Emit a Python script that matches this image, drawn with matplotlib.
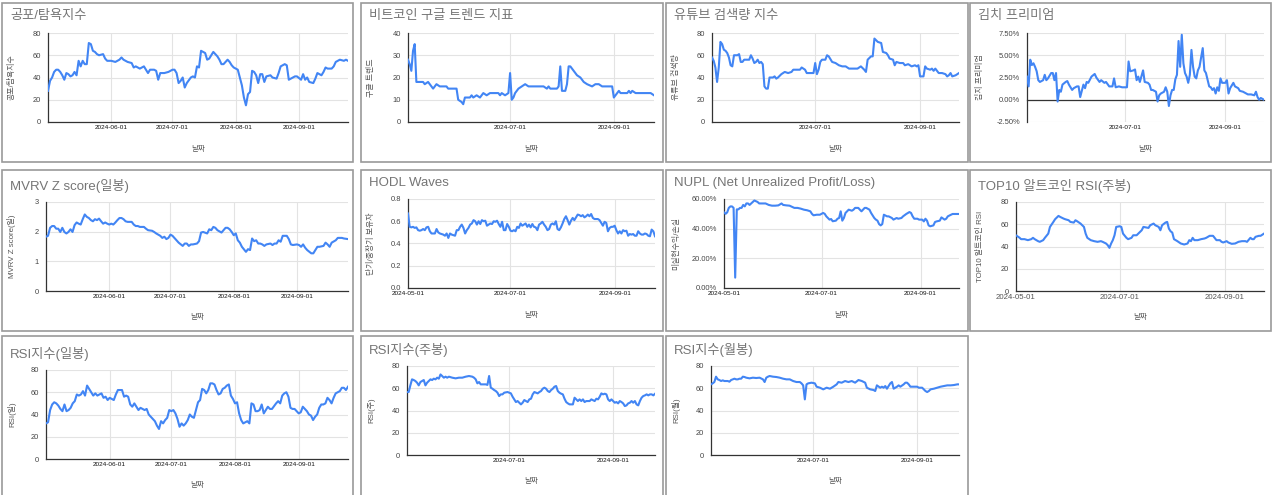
import matplotlib
matplotlib.use('Agg')
import matplotlib.pyplot as plt
from matplotlib.patches import Rectangle
import pandas as pd

plt.rcParams['font.family'] = ['Liberation Sans', 'Noto Sans CJK KR']

START = pd.Timestamp('2024-05-01')

# (days since 2024-05-01, value)
fear_greed = [(0,28),(1,37),(2,40),(3,45),(4,47),(5,47),(6,45),(7,42),(8,38),(9,44),(10,43),(11,41),(12,42),(13,45),(14,42),(15,55),(16,50),(17,55),(18,52),(19,52),(20,71),(21,70),(22,64),(23,63),(24,61),(25,60),(27,61),(28,57),(29,55),(31,55),(33,54),(35,56),(36,58),(37,56),(39,54),(41,53),(42,49),(43,50),(45,48),(46,49),(47,50),(49,44),(50,47),(52,47),(53,46),(54,38),(55,44),(57,44),(59,45),(61,47),(62,47),(63,44),(64,35),(65,37),(66,40),(67,31),(68,35),(70,40),(71,41),(72,40),(73,50),(74,49),(75,64),(77,62),(78,56),(79,57),(80,60),(81,63),(83,59),(84,56),(85,52),(86,52),(88,56),(89,54),(90,51),(91,49),(93,47),(94,40),(95,33),(96,22),(97,15),(98,25),(99,27),(100,46),(101,45),(102,42),(103,35),(104,43),(105,43),(106,36),(107,41),(109,42),(110,40),(112,39),(113,44),(114,50),(116,52),(117,51),(118,38),(120,40),(121,41),(122,41),(124,38),(125,43),(126,38),(127,40),(128,36),(130,35),(131,39),(132,44),(134,42),(135,45),(136,49),(137,48),(139,48),(140,50),(141,54),(143,56),(145,55),(146,56),(147,55)]

google_trend = [(0,28),(1,26),(2,23),(3,32),(4,35),(5,18),(9,18),(10,17),(12,18),(14,16),(15,15),(17,17),(19,16),(23,16),(24,15),(29,15),(30,10),(32,9),(33,8),(34,11),(37,11),(38,12),(39,11),(41,12),(43,11),(45,13),(47,12),(49,13),(54,13),(55,12),(56,13),(58,12),(60,13),(61,22),(62,10),(63,11),(64,13),(66,15),(68,16),(70,17),(72,16),(81,16),(83,15),(84,16),(85,15),(89,15),(90,16),(91,25),(92,14),(94,14),(95,17),(96,25),(97,25),(99,23),(101,21),(103,20),(105,18),(107,17),(110,16),(112,17),(114,17),(116,16),(122,16),(123,11),(124,12),(126,14),(127,13),(131,13),(132,14),(133,13),(134,14),(136,13),(145,13),(147,12)]

youtube = [(0,58),(1,55),(2,49),(3,36),(4,49),(5,72),(6,70),(7,65),(8,64),(9,62),(10,58),(11,51),(12,50),(13,60),(15,60),(16,61),(17,54),(18,54),(19,56),(20,56),(22,56),(23,60),(24,57),(25,53),(26,54),(27,56),(28,53),(29,54),(30,52),(31,32),(32,30),(33,30),(34,40),(36,40),(37,41),(38,39),(39,40),(41,43),(43,45),(45,44),(47,45),(48,47),(50,47),(52,47),(53,49),(55,47),(56,44),(59,44),(60,44),(61,53),(62,43),(63,47),(64,54),(65,56),(67,56),(68,60),(69,59),(71,54),(73,53),(75,51),(77,50),(79,50),(81,48),(84,48),(86,48),(88,50),(90,47),(91,45),(92,56),(94,59),(95,59),(96,75),(98,72),(100,71),(101,63),(103,62),(104,60),(105,57),(107,56),(108,51),(109,54),(111,53),(113,53),(114,51),(116,52),(118,50),(120,51),(121,50),(122,51),(123,41),(125,41),(126,50),(127,48),(129,47),(130,48),(131,46),(132,48),(133,46),(134,44),(136,44),(138,43),(139,41),(140,42),(141,44),(142,41),(144,42),(146,44)]

kimchi = [(0,2.6),(1,1.5),(2,4.5),(3,3.9),(4,4.1),(5,3.7),(6,3.2),(7,2.2),(8,2.0),(10,2.2),(11,2.8),(12,2.2),(13,2.4),(15,3.0),(16,3.0),(17,2.2),(18,3.0),(19,-0.2),(20,1.1),(21,0.9),(22,1.7),(24,2.0),(25,2.1),(26,1.7),(28,1.1),(29,1.3),(31,1.5),(32,1.5),(33,0.3),(35,1.7),(36,1.3),(37,2.0),(38,1.9),(40,2.6),(42,2.9),(43,2.5),(45,2.0),(46,2.2),(48,1.9),(49,2.0),(51,1.5),(53,1.5),(54,2.4),(55,1.4),(57,1.5),(59,1.4),(61,1.4),(62,1.4),(63,4.3),(64,3.2),(66,3.3),(67,3.4),(68,2.2),(69,2.6),(70,2.0),(72,3.3),(73,2.0),(75,1.9),(76,1.7),(77,1.1),(78,1.1),(80,0.9),(81,-0.2),(82,0.5),(83,0.7),(85,0.9),(86,1.4),(87,0.9),(88,-0.7),(89,0.5),(90,1.1),(91,1.1),(92,2.3),(93,2.8),(94,6.6),(95,3.7),(96,7.3),(97,4.1),(98,3.0),(99,2.6),(100,1.9),(101,2.8),(102,5.6),(103,3.7),(104,2.6),(105,2.4),(106,3.3),(107,3.7),(109,5.8),(110,3.3),(111,3.0),(113,1.5),(114,1.4),(115,1.1),(116,1.3),(117,0.7),(118,1.4),(119,1.0),(120,2.4),(121,1.9),(123,1.9),(124,2.2),(125,0.7),(126,1.3),(128,1.9),(129,1.5),(131,1.3),(132,1.0),(134,0.9),(137,0.6),(139,0.6),(141,0.5),(142,0.9),(143,0.3),(144,0.0),(145,0.2),(147,0.0)]

mvrv = [(0,1.83),(1,1.86),(2,2.13),(3,2.19),(4,2.19),(5,2.1),(6,2.1),(7,1.99),(8,2.13),(9,1.99),(10,1.94),(11,1.99),(12,2.08),(13,1.99),(14,2.22),(15,2.31),(16,2.27),(17,2.24),(18,2.42),(19,2.58),(20,2.5),(21,2.46),(22,2.39),(23,2.35),(24,2.42),(25,2.39),(26,2.44),(27,2.35),(28,2.27),(29,2.31),(30,2.27),(31,2.24),(32,2.27),(33,2.24),(34,2.31),(35,2.39),(36,2.46),(37,2.46),(38,2.42),(39,2.35),(40,2.33),(42,2.33),(43,2.24),(44,2.19),(45,2.19),(46,2.16),(48,2.16),(49,2.1),(50,2.05),(52,2.03),(53,1.99),(54,1.94),(56,1.86),(57,1.79),(58,1.83),(59,1.75),(60,1.79),(61,1.9),(62,1.86),(64,1.71),(65,1.63),(67,1.52),(68,1.6),(69,1.6),(70,1.52),(71,1.57),(72,1.57),(74,1.6),(75,1.68),(76,1.97),(77,1.99),(79,1.94),(80,2.08),(81,2.05),(82,2.16),(83,2.13),(84,2.05),(86,1.97),(87,2.05),(88,2.13),(89,2.13),(90,2.08),(91,1.99),(92,1.88),(93,1.94),(94,1.71),(95,1.63),(96,1.49),(98,1.32),(99,1.41),(100,1.38),(101,1.77),(102,1.68),(103,1.71),(104,1.6),(105,1.6),(106,1.57),(107,1.52),(108,1.57),(110,1.6),(111,1.55),(112,1.6),(113,1.6),(114,1.71),(115,1.66),(116,1.86),(118,1.86),(119,1.75),(120,1.57),(121,1.55),(123,1.57),(124,1.55),(125,1.49),(126,1.57),(127,1.46),(128,1.38),(130,1.27),(131,1.27),(132,1.38),(133,1.49),(134,1.49),(136,1.52),(137,1.63),(138,1.57),(139,1.49),(140,1.63),(142,1.71),(143,1.79),(145,1.79),(146,1.77),(148,1.75)]

hodl_daily = [0.67,0.55,0.545,0.55,0.54,0.545,0.52,0.515,0.52,0.53,0.52,0.545,0.55,0.51,0.49,0.49,0.49,0.53,0.50,0.49,0.485,0.48,0.47,0.49,0.45,0.49,0.48,0.475,0.47,0.52,0.52,0.55,0.57,0.54,0.49,0.52,0.54,0.57,0.58,0.61,0.60,0.57,0.60,0.575,0.61,0.60,0.605,0.56,0.57,0.58,0.575,0.60,0.595,0.605,0.575,0.55,0.595,0.52,0.52,0.575,0.55,0.515,0.51,0.52,0.51,0.55,0.54,0.58,0.56,0.57,0.58,0.55,0.57,0.545,0.575,0.55,0.545,0.52,0.57,0.58,0.595,0.57,0.55,0.52,0.53,0.57,0.58,0.57,0.60,0.53,0.52,0.545,0.58,0.62,0.645,0.61,0.57,0.605,0.63,0.61,0.635,0.66,0.655,0.645,0.655,0.635,0.645,0.66,0.645,0.665,0.63,0.62,0.62,0.62,0.61,0.585,0.56,0.595,0.585,0.51,0.54,0.55,0.55,0.56,0.52,0.49,0.51,0.49,0.52,0.51,0.515,0.47,0.485,0.48,0.485,0.47,0.47,0.51,0.49,0.48,0.48,0.49,0.485,0.47,0.465,0.525,0.51,0.465]
hodl = list(enumerate(hodl_daily))

nupl = [(0,51),(1,50),(2,51),(3,54),(4,55),(5,55),(6,54),(7,7),(8,53),(9,53),(10,54),(11,54),(12,56),(13,55),(14,57),(15,57),(16,56),(17,57),(19,59),(21,58),(22,57),(24,57),(26,57),(28,56),(30,55.5),(32,55.5),(34,55.7),(36,57),(37,56),(39,55.7),(41,55.5),(44,54),(46,54),(48,53.5),(50,52.8),(52,52.4),(54,51.7),(55,50),(56,49),(58,49.4),(60,49.4),(62,50.6),(63,50),(64,48.3),(66,46.1),(67,46.5),(68,45),(70,45.4),(71,46.7),(72,47.2),(73,51.7),(74,45.4),(75,47.2),(76,50.6),(77,51.7),(78,52.8),(80,52.1),(81,52.8),(82,54),(84,54),(85,52.8),(86,51.7),(88,54),(89,54),(91,52.8),(92,50.6),(94,47.2),(95,46.1),(96,45.4),(97,43.1),(98,42.2),(99,43.1),(100,49.4),(102,48.3),(103,48.3),(105,47.2),(106,46.1),(108,47.2),(109,46.7),(111,47.2),(112,48.3),(114,49.9),(116,51.2),(117,50.6),(118,48.3),(119,46.7),(121,46.7),(122,46.1),(124,46.1),(125,44.9),(126,46.7),(127,45.4),(128,42.2),(129,41.6),(131,42.2),(132,44.5),(133,44.9),(135,45.4),(136,47.6),(138,46.1),(139,46.7),(140,48.3),(142,49.4),(143,49.9),(145,49.9),(147,49.9)]

alt_rsi = [(0,50),(2,48),(3,46.6),(5,46.6),(7,45.7),(9,46.6),(10,47.8),(11,46.6),(13,44.8),(14,44.2),(16,45.7),(17,47.8),(19,51.6),(20,57.6),(22,62.1),(23,64.5),(25,67.5),(26,66.6),(28,65.1),(29,64.5),(31,63.6),(32,62.1),(34,61.5),(35,63.6),(36,62.7),(38,60.6),(40,57.6),(41,51.6),(42,47.8),(44,45.7),(46,44.8),(48,44.2),(50,44.8),(51,44.2),(53,42.7),(54,41.2),(55,38.8),(56,42.7),(57,45.7),(58,50.1),(59,57.6),(61,58.2),(62,57.6),(63,51.6),(65,47.8),(66,46.6),(68,47.8),(69,50.1),(71,50.1),(72,51.6),(74,54.6),(75,57.6),(77,57),(78,56.7),(79,59.1),(81,60.6),(82,59.1),(84,57.6),(85,54.6),(86,59.1),(88,61.5),(89,62.1),(90,56.1),(91,53.7),(92,52.5),(93,46.6),(95,44.8),(97,42.7),(99,41.8),(101,42.7),(102,45.7),(103,44.8),(104,47.8),(105,45.7),(107,45.7),(109,46.6),(111,47.2),(112,47.8),(114,49.6),(116,49.6),(118,45.7),(120,45.7),(121,44.2),(122,43.6),(124,44.8),(125,43.6),(127,42.4),(129,42.7),(131,44.2),(133,44.8),(135,44.8),(136,44.2),(138,47.8),(139,46.6),(140,46.6),(141,48.7),(143,49.6),(144,49.6),(146,51.6)]

rsi_day = [(0,32),(1,33),(2,44),(3,49),(4,51),(5,50),(6,48),(7,45),(8,43),(9,49),(10,43),(11,44),(12,46),(13,50),(14,52),(15,58),(16,57),(17,58),(18,61),(19,57),(20,66),(21,63),(22,60),(23,57),(24,59),(25,57),(26,58),(27,59),(28,55),(29,56),(30,53),(31,55),(32,54),(33,53),(34,58),(35,62),(36,62),(37,62),(38,56),(39,57),(40,56),(41,49),(42,47),(43,50),(44,47),(45,44),(46,46),(47,45),(48,44),(49,45),(50,40),(51,38),(52,36),(53,34),(54,30),(55,27),(56,34),(57,32),(58,35),(59,37),(60,44),(61,43),(62,44),(63,41),(64,36),(65,29),(66,32),(67,30),(68,32),(69,35),(70,40),(71,38),(72,37),(73,44),(74,51),(75,53),(76,63),(77,62),(78,59),(79,62),(80,68),(81,68),(82,67),(83,62),(84,58),(85,59),(86,63),(87,64),(88,66),(89,67),(90,57),(91,54),(92,50),(93,51),(94,41),(95,35),(96,32),(97,33),(98,34),(99,32),(100,50),(101,49),(102,43),(103,43),(104,44),(105,49),(106,41),(107,44),(108,47),(109,45),(110,45),(112,50),(113,52),(114,50),(115,57),(116,59),(117,60),(118,56),(119,46),(120,45),(121,45),(123,41),(124,42),(125,47),(126,45),(127,43),(128,40),(129,39),(130,35),(131,38),(132,40),(133,46),(134,49),(135,49),(136,50),(137,55),(138,53),(139,50),(140,55),(141,59),(142,60),(143,61),(144,64),(145,64),(146,62),(147,65)]

rsi_week = [(0,56.6),(1,56.6),(2,62.6),(3,68),(4,67.4),(5,66.5),(6,65),(7,62.6),(8,65.6),(9,66.5),(10,67.4),(11,62.6),(12,65),(13,66.5),(14,68),(15,67.4),(16,68.6),(17,68),(18,69.5),(19,68.6),(20,72.4),(21,71),(22,69.5),(23,70.4),(24,69.5),(25,70.4),(27,69.5),(29,68.9),(31,69.5),(33,69.5),(35,70.4),(37,71),(39,70.4),(40,69.5),(41,68),(42,64.4),(43,65.6),(44,63.5),(45,63.5),(47,63.5),(48,63),(49,71),(50,60.5),(51,59.6),(52,58.4),(53,57.5),(54,56),(55,53),(56,54.5),(57,54.5),(58,56),(60,56.6),(61,56),(62,55.4),(63,52.4),(64,50),(65,47.6),(66,48.5),(67,47),(68,45.5),(69,47),(70,49.4),(71,48.5),(72,47.6),(73,50),(74,50.6),(75,54.5),(76,56.6),(77,56),(78,55.4),(79,56.6),(80,57.5),(81,59.6),(82,60.5),(83,59.6),(84,57.5),(85,56.6),(86,58.4),(87,59.6),(88,61.4),(89,62),(90,57.5),(91,56),(92,55.1),(93,54.5),(94,50.6),(95,47.6),(96,46.4),(97,45.5),(98,45.5),(99,45.5),(100,51.5),(101,50),(102,48.5),(103,50),(104,48.5),(105,50),(106,47.6),(107,48.5),(109,48.5),(110,50),(112,48.5),(113,50.6),(114,50),(115,52.4),(116,55.4),(117,54.5),(118,55.1),(119,54.5),(120,50),(121,48.5),(122,50),(123,48.5),(124,47),(125,47.6),(126,46.4),(127,48.5),(128,47.6),(129,46.4),(130,44),(131,44.6),(132,46.4),(133,47),(134,48.5),(135,47),(136,48.5),(137,45.5),(138,44.6),(139,48.5),(140,51.5),(141,53),(142,53.6),(143,54.5),(144,53.6),(145,54.5),(146,54.5),(147,53.6),(148,55)]

rsi_month = [(0,63.5),(1,64.4),(2,65.6),(3,70.4),(4,68),(5,67.4),(6,66.5),(7,67.1),(8,66.5),(9,66.5),(10,66.5),(11,65.9),(12,67.4),(13,68),(14,68.6),(15,68),(16,68),(17,68.6),(18,68.6),(19,70.4),(20,70.1),(21,69.5),(23,68.9),(25,69.5),(27,69.2),(29,69.5),(31,68),(32,65.6),(33,69.5),(34,70.4),(35,71),(37,70.4),(39,70.1),(41,69.5),(43,68.6),(45,68),(47,68),(49,66.5),(51,65.6),(53,65.6),(54,64.4),(55,62.6),(56,50),(57,63.5),(58,64.4),(60,65),(62,64.4),(63,61.4),(65,60.5),(67,59),(69,60.5),(71,59.6),(73,61.4),(75,63.5),(76,65.6),(78,65),(80,66.5),(82,65.6),(84,66.5),(86,65),(88,67.4),(90,66.5),(92,65),(93,60.5),(95,59),(97,58.4),(98,57.5),(99,62.6),(101,60.5),(102,61.4),(103,60.5),(104,62),(105,59.6),(106,62),(107,64.4),(108,65.6),(109,59.6),(110,60.5),(111,61.4),(112,62.6),(113,61.4),(115,63.5),(116,65),(117,65),(118,63.5),(119,61.4),(121,61.4),(123,61.4),(124,60.5),(126,60.5),(127,59),(128,57.5),(129,56.6),(130,57.5),(131,59),(133,59.6),(135,60.5),(137,61.4),(139,62),(141,62.6),(143,62.6),(145,62.9),(147,63.5),(148,63.5)]

titles = ['공포/탐욕지수', '비트코인 구글 트렌드 지표', '유튜브 검색량 지수', '김치 프리미엄',
          'MVRV Z score(일봉)', 'HODL Waves', 'NUPL (Net Unrealized Profit/Loss)', 'TOP10 알트코인 RSI(주봉)',
          'RSI지수(일봉)', 'RSI지수(주봉)', 'RSI지수(월봉)']
ylabels = ['공포/탐욕지수', '구글 트렌드', '유튜브 검색량', '김치 프리미엄',
           'MVRV Z score(일)', '단기/중장기 보유자', '미실현수익/손실', 'TOP10 알트코인 RSI',
           'RSI(일)', 'RSI(주)', 'RSI(월)']
series = [fear_greed, google_trend, youtube, kimchi, mvrv, hodl, nupl, alt_rsi, rsi_day, rsi_week, rsi_month]

monthly = ['2024-06-01', '2024-07-01', '2024-08-01', '2024-09-01']
bimonthly = ['2024-07-01', '2024-09-01']
from_may = ['2024-05-01', '2024-07-01', '2024-09-01']
xtick_sets = [monthly, bimonthly, bimonthly, bimonthly,
              monthly, from_may, from_may, from_may,
              monthly, bimonthly, bimonthly]
ytick_sets = [[0, 20, 40, 60, 80], [0, 10, 20, 30, 40], [0, 20, 40, 60, 80], [-2.5, 0, 2.5, 5, 7.5],
              [0, 1, 2, 3], [0, 0.2, 0.4, 0.6, 0.8], [0, 20, 40, 60], [0, 20, 40, 60, 80],
              [0, 20, 40, 60, 80], [0, 20, 40, 60, 80], [0, 20, 40, 60, 80]]
yfmts = ['{:.0f}', '{:.0f}', '{:.0f}', '{:.2f}%', '{:.0f}', '{:.1f}', '{:.2f}%', '{:.0f}',
         '{:.0f}', '{:.0f}', '{:.0f}']

# layout in pixels: chart box, plot area (left, top, right, bottom), title y
boxes = [(2, 3, 353, 162), (361, 3, 663, 162), (666, 3, 968, 162), (970, 3, 1271, 162),
         (2, 170, 353, 331), (361, 170, 663, 331), (666, 170, 968, 331), (970, 170, 1271, 331),
         (2, 336, 353, 500), (361, 336, 663, 500), (666, 336, 968, 500)]
plots = [(48, 33, 348, 122), (408, 33, 654, 122), (712, 33, 959, 122), (1027, 33, 1264, 122),
         (46, 202, 348, 291), (408, 199, 655, 288), (724, 199, 959, 288), (1016, 202, 1264, 291),
         (46, 370, 348, 459), (407, 366, 655, 455), (711, 366, 959, 455)]
title_y = [16, 16, 16, 16, 186, 183, 183, 186, 354, 350, 350]

W, H = 1273, 495
BLUE = '#4285f4'
fig = plt.figure(figsize=(W / 100, H / 100), dpi=100)

for i in range(11):
    bl, bt, br, bb = boxes[i]
    fig.add_artist(Rectangle((bl / W, 1 - bb / H), (br - bl) / W, (bb - bt) / H,
                             transform=fig.transFigure, facecolor='white',
                             edgecolor='#9a9a9a', lw=1.2, zorder=-1))
    fig.text((bl + 8) / W, 1 - title_y[i] / H, titles[i], fontsize=9.5,
             color='#757575', ha='left', va='center')

    l, t, r, b = plots[i]
    ax = fig.add_axes([l / W, 1 - b / H, (r - l) / W, (b - t) / H])
    ax.set_facecolor('none')
    days, vals = zip(*series[i])
    dates = START + pd.to_timedelta(list(days), unit='D')
    ax.plot(dates, vals, color=BLUE, lw=1.5, solid_joinstyle='round', zorder=3)

    yt = ytick_sets[i]
    ax.set_ylim(yt[0], yt[-1])
    ax.set_yticks(yt)
    ax.set_yticklabels([yfmts[i].format(v) for v in yt])
    xt = xtick_sets[i]
    ax.set_xticks(pd.to_datetime(xt))
    ax.set_xticklabels(xt)
    ax.set_xlim(dates[0], dates[-1])

    ax.grid(True, color='#e3e3e3', lw=0.8, zorder=0)
    ax.axhline(0, color='#333333', lw=0.9, zorder=2, clip_on=False)
    ax.axvline(dates[0], color='#333333', lw=0.9, zorder=2, clip_on=False)
    for s in ax.spines.values():
        s.set_visible(False)
    ax.tick_params(axis='y', length=0, pad=5, labelsize=5.4, labelcolor='#444444')
    xsize = 5.6 if i == 7 else 4.6
    xcol = '#555555' if i == 7 else '#111111'
    ax.tick_params(axis='x', length=0, pad=2.5, labelsize=xsize, labelcolor=xcol)

    ax.set_ylabel(ylabels[i], fontsize=5.7, color='#555555')
    ax.yaxis.set_label_coords((bl + 10 - l) / (r - l), 0.5)
    ax.set_xlabel('날짜', fontsize=5.4, color='#555555')
    ax.xaxis.set_label_coords(0.5, -27 / (b - t))
    ax.xaxis.label.set_va('center')
    ax.yaxis.label.set_va('center')

fig.savefig('out.png', dpi=100)
